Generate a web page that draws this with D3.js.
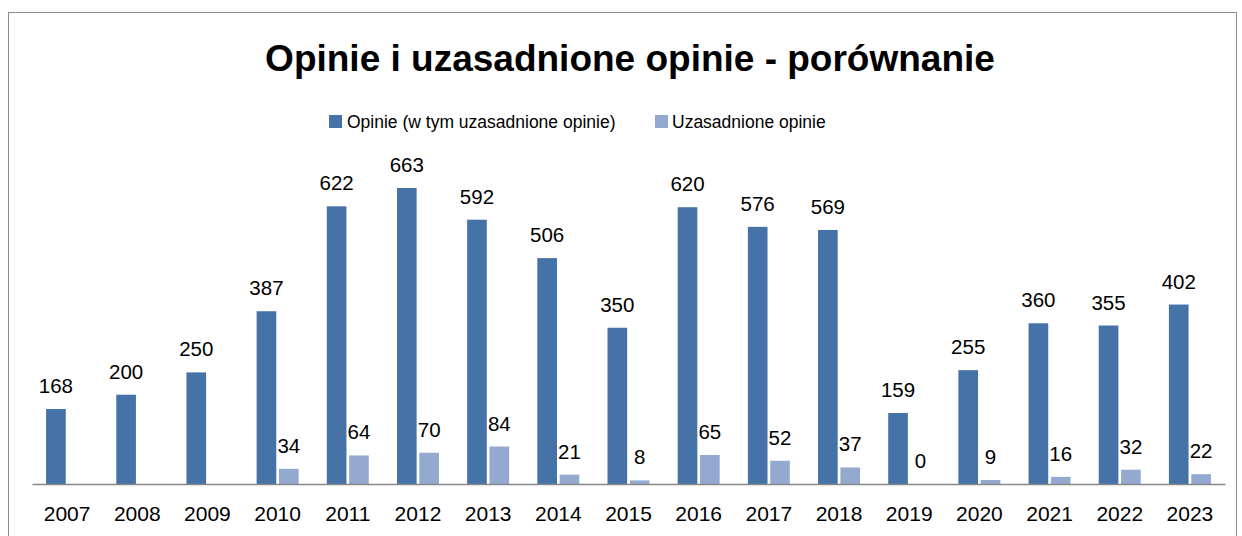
<!DOCTYPE html>
<html><head><meta charset="utf-8">
<script src="https://cdn.jsdelivr.net/npm/d3@7"></script>
<style>body{margin:0;background:#fff}svg{display:block}text{font-family:"Liberation Sans",Arial,sans-serif}</style>
</head><body>
<svg id="c" width="1242" height="536"></svg>
<script>
const years = ["2007","2008","2009","2010","2011","2012","2013","2014","2015","2016","2017","2018","2019","2020","2021","2022","2023"];
const opinie = [168,200,250,387,622,663,592,506,350,620,576,569,159,255,360,355,402];
const uzasadnione = [null,null,null,34,64,70,84,21,8,65,52,37,0,9,16,32,22];
const seriesNames = ["Opinie (w tym uzasadnione opinie)","Uzasadnione opinie"];
const colors = ["#4572a7","#93a9cf"];

const svg = d3.select("#c");
svg.append("rect").attr("x",8.5).attr("y",12.5).attr("width",1228).attr("height",540)
  .attr("fill","#fff").attr("stroke","#8c8c8c").attr("stroke-width",1);

svg.append("text").attr("x",630).attr("y",71).attr("text-anchor","middle")
  .attr("font-size",37).attr("font-weight","bold").attr("fill","#000")
  .text("Opinie i uzasadnione opinie - porównanie");

// legend
const leg = [{x:329,tx:347},{x:655,tx:672}];
seriesNames.forEach((n,i)=>{
  svg.append("rect").attr("x",leg[i].x).attr("y",115).attr("width",13).attr("height",13).attr("fill",colors[i]);
  svg.append("text").attr("x",leg[i].tx).attr("y",128).attr("font-size",17.5).attr("fill","#000").text(n);
});

const x0 = d3.scaleBand().domain(years).range([32,1225]).paddingInner(0).paddingOuter(0);
const x1 = d3.scaleBand().domain([0,1]).range([x0.bandwidth()/2-21, x0.bandwidth()/2+21]).paddingInner(0.12);
const y = d3.scaleLinear().domain([0,700]).range([484,171.5]);

const g = svg.append("g");
years.forEach((yr,i)=>{
  [opinie[i],uzasadnione[i]].forEach((v,s)=>{
    if(v===null) return;
    const bx = x0(yr)+x1(s);
    g.append("rect").attr("x",bx).attr("y",y(v)).attr("width",x1.bandwidth()).attr("height",y(0)-y(v)).attr("fill",colors[s]);
    g.append("text").attr("x",bx+x1.bandwidth()/2).attr("y",y(v)-16).attr("text-anchor","middle")
      .attr("font-size",20.5).attr("fill","#000").text(v);
  });
});

const ax = svg.append("g").attr("transform","translate(0,484)").call(d3.axisBottom(x0).tickSize(0).tickPadding(22));
ax.select(".domain").attr("stroke","#888").attr("stroke-width",1.5);
ax.selectAll("text").attr("font-size",21).attr("fill","#000").attr("font-family","Liberation Sans, Arial, sans-serif");
</script>
</body></html>
